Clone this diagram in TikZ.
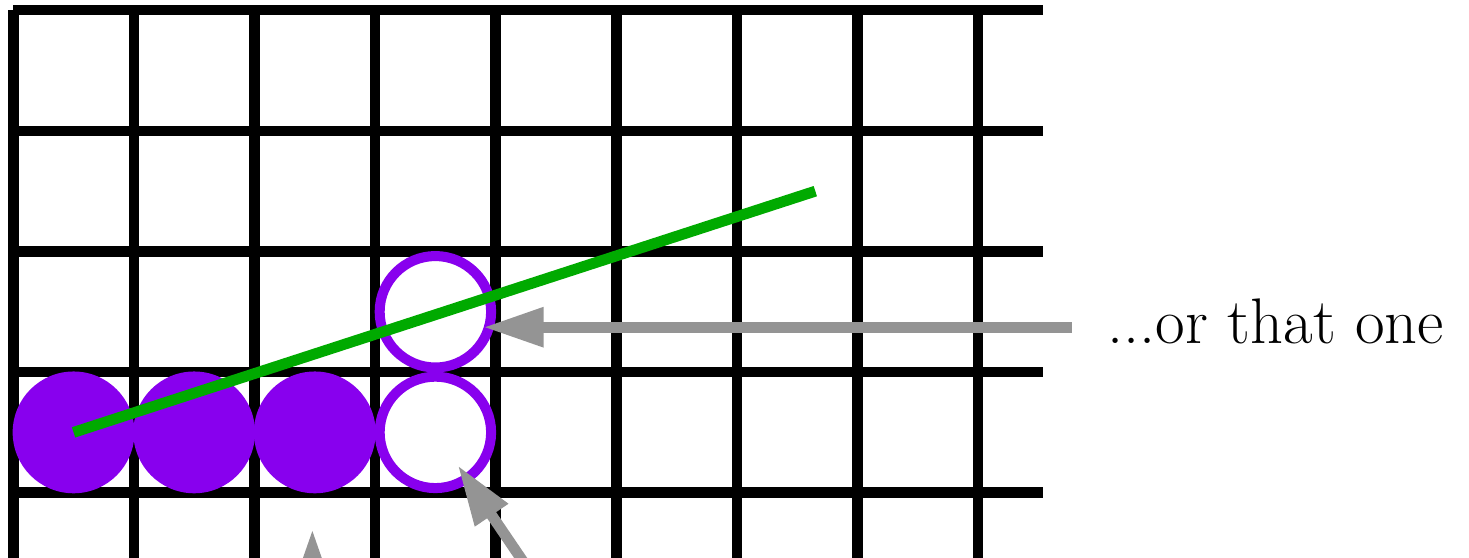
\documentclass[tikz,border=0pt]{standalone}
\usepackage{fontspec}
\usepackage{xcolor}
\usepackage{tikz}
\usetikzlibrary{arrows.meta}
\definecolor{stonepurple}{RGB}{136,0,238}
\definecolor{fitgreen}{RGB}{0,170,0}
\definecolor{pointergray}{RGB}{148,148,148}

\begin{document}
\begin{tikzpicture}[
  gridline/.style={line width=0.087cm},
  stone/.style={circle, fill=stonepurple, minimum size=1.01cm, inner sep=0pt},
  hollow/.style={circle, draw=stonepurple, fill=white, line width=0.083cm, minimum size=0.924cm, inner sep=0pt},
  pointer/.style={pointergray, line width=0.09cm, -{Triangle[length=0.5cm,width=0.31cm]}}]
  \useasboundingbox (-0.11,0.085) rectangle (12.07,-4.541);
  \clip (-0.11,0.085) rectangle (12.07,-4.541);
  \foreach \r in {0,...,4}
    \draw[gridline] (0,-\r) -- (8.54,-\r);
  \foreach \c in {0,...,8}
    \draw[gridline] (\c,0) -- (\c,-4.7);
  \node[stone] (first) at (0.5,-3.5) {};
  \node[stone] (second) at (1.5,-3.5) {};
  \node[stone] (third) at (2.5,-3.5) {};
  \node[hollow] (low) at (3.5,-3.5) {};
  \node[hollow] (top) at (3.5,-2.5) {};
  \coordinate (reach) at (6.65,-1.5);
  \draw[fitgreen, line width=0.09cm] (first.center) -- (reach);
  \node[anchor=base west, inner sep=0pt, font=\fontsize{15.2}{18}\selectfont] (thatone) at (9.066,-2.759) {...or that one};
  \coordinate (from) at ([shift={(-0.29,0.131)}]thatone.base west);
  \draw[pointer, shorten >=0.397cm] (from) -- (from -| top.center);
  \coordinate (tailA) at (2.48,-5);
  \draw[pointer, shorten >=0.29cm] (tailA) -- (tailA |- third.south);
  \coordinate (tailB) at (4.399,-4.824);
  \draw[pointer, shorten >=0.33cm] (tailB) -- (low.center);
\end{tikzpicture}
\end{document}
